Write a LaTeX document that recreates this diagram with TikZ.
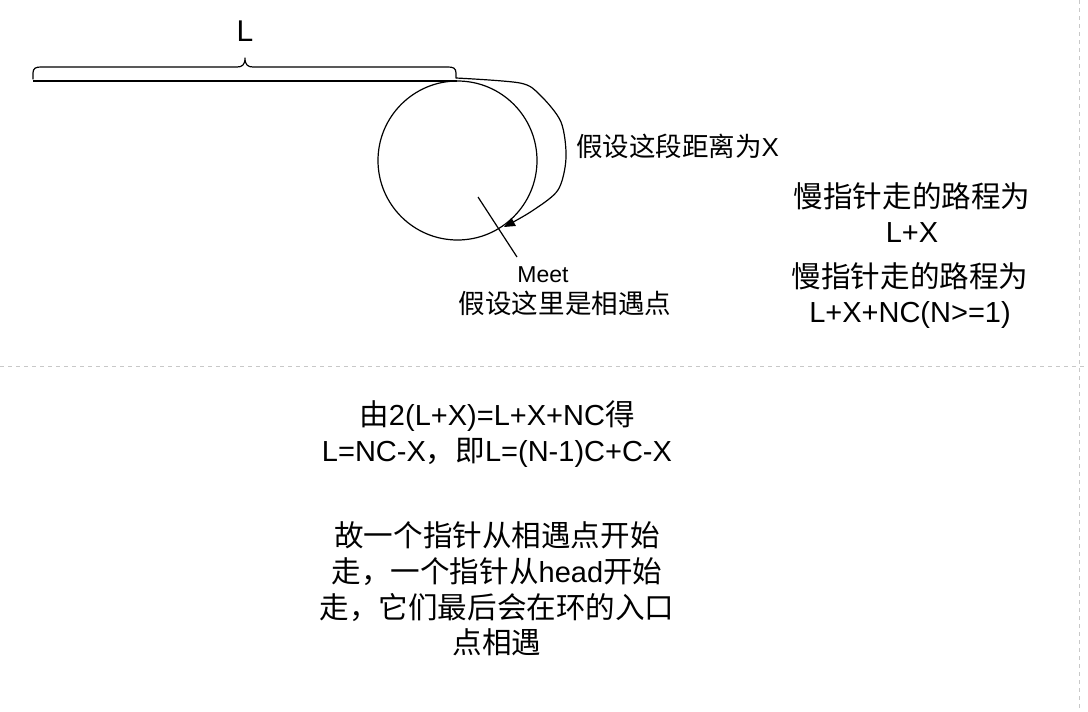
\documentclass[tikz,border=0pt]{standalone}
\usepackage{fontspec}
\setmainfont{Liberation Sans}
\newfontfamily\cjk[Scale=1.02]{Noto Sans CJK SC}
\usetikzlibrary{arrows.meta}
\definecolor{guide}{HTML}{C8C8C8}
\tikzset{
  txt/.style={inner sep=0pt, outer sep=0pt, align=center, text=black},
  guideline/.style={guide, line width=1pt, dash pattern=on 4pt off 4pt},
  ink/.style={black, line width=1.2pt},
}
\begin{document}
\begin{tikzpicture}[x=1pt,y=-1pt]
\useasboundingbox (0,0) rectangle (1088,712);
% guides
\coordinate (gl) at (0,366);
\coordinate (gr) at (1088,366);
\coordinate (vt) at (1079,0);
\coordinate (vb) at (1079,712);
\draw[guideline] (gl) -- (gr);
\draw[guideline] (vt) -- (vb);
% straight part and circle
\coordinate (head) at (33,81);
\coordinate (entry) at (457,81);
\draw[ink] (head) -- (entry);
\node[ink, draw, circle, minimum size=159pt, inner sep=0pt] (loop) at (457.5,160.5) {};
% brace
\draw[ink, line cap=round, line join=round]
  (33,79) -- (33,73) .. controls (33,68) and (36,67) .. (41,67)
  -- (237,67) .. controls (242,67) and (245,65) .. (245,58)
  .. controls (245,65) and (248,67) .. (253,67)
  -- (448,67) .. controls (453,67) and (456,68) .. (456,73) -- (456,78);
\node[txt, font={\fontsize{30}{36}\selectfont}] (Llab) at (245,31) {L};
% arrow X
\coordinate (xs) at (456,78);
\coordinate (xe) at (504,227);
\draw[ink, -{Triangle[length=11pt,width=9pt]}]
  plot[smooth, tension=0.5] coordinates {(xs) (520,83) (540,95) (561,122) (566,158) (558,190) (532,211) (xe)};
\node[txt, anchor=west, font={\fontsize{26}{31}\selectfont}] (xlab) at (576,146) {{\cjk 假设这段距离为}X};
% meet
\coordinate (m1) at (478,197);
\coordinate (m2) at (517,257);
\draw[ink] (m1) -- (m2);
\node[txt, font={\fontsize{23}{27}\selectfont}] (meet) at (543,275) {Meet};
\node[txt, font={\fontsize{26}{31}\selectfont\cjk}] (meetcn) at (565,303) {假设这里是相遇点};
% right texts
\node[txt, font={\fontsize{29}{35}\selectfont}] (slow) at (912,213) {{\cjk 慢指针走的路程为}\\L+X};
\node[txt, font={\fontsize{29}{35}\selectfont}] (fast) at (910,296) {{\cjk 慢指针走的路程为}\\L+X+NC(N>=1)};
% bottom texts
\node[txt, font={\fontsize{29}{36}\selectfont}] (eq) at (497,434) {{\cjk 由}2(L+X)=L+X+NC{\cjk 得}\\L=NC-X{\cjk ，即}L=(N-1)C+C-X};
\node[txt, font={\fontsize{29}{35.6}\selectfont}] (concl) at (497,589) {{\cjk 故一个指针从相遇点开始}\\{\cjk 走，一个指针从}head{\cjk 开始}\\{\cjk 走，它们最后会在环的入口}\\{\cjk 点相遇}};
\end{tikzpicture}
\end{document}
